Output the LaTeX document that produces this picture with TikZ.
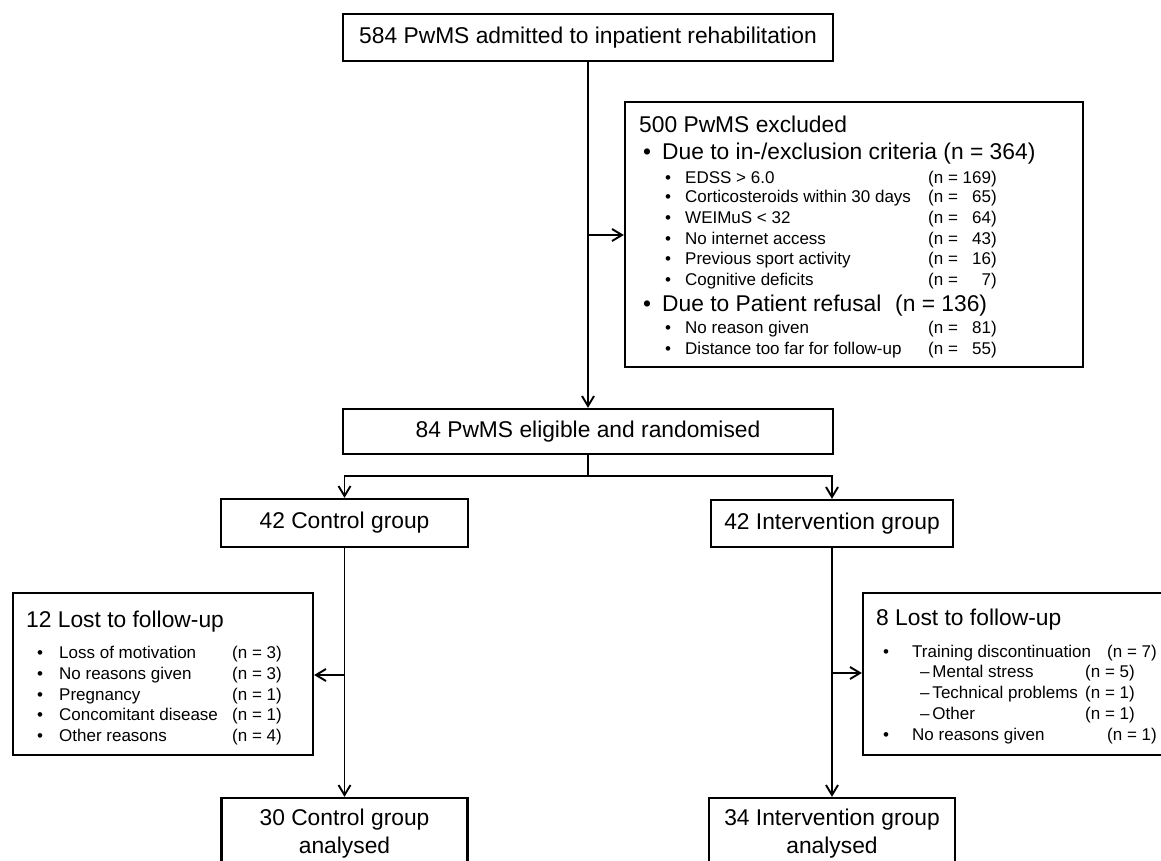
\documentclass[tikz,border=0pt]{standalone}
\usepackage{fontspec}
\setmainfont{Liberation Sans}
\usetikzlibrary{arrows.meta}
\begin{document}
\begin{tikzpicture}[x=1pt,y=-1pt,
  box/.style={draw, line width=2.3pt, inner sep=0pt},
  big/.style={font=\fontsize{22.8}{28}\selectfont},
  small/.style={font=\fontsize{17}{20}\selectfont},
  txt/.style={anchor=base west, inner sep=0pt},
  conn/.style={line width=1.9pt},
  arr/.style={conn, -{Straight Barb[length=10pt,width=12pt,line width=1.9pt]}}
]
\path[use as bounding box] (0,0) rectangle (1161,861);
\clip (0,0) rectangle (1161,861);

% boxes
\node[box,big,minimum width=490pt,minimum height=47pt] (top) at (588,37.5) {584 PwMS admitted to inpatient rehabilitation};
\node[box,minimum width=458pt,minimum height=265pt] (excl) at (854,234.5) {};
\node[box,big,minimum width=490pt,minimum height=45pt] (elig) at (588,431.5) {84 PwMS eligible and randomised};
\node[box,big,minimum width=247pt,minimum height=48pt] (ctrl) at (344.5,523) {42 Control group};
\node[box,big,minimum width=242pt,minimum height=47pt] (intv) at (832,523.5) {42 Intervention group};
\node[box,minimum width=300pt,minimum height=162pt] (lostL) at (163,674) {};
\node[box,minimum width=312pt,minimum height=162pt] (lostR) at (1019,674) {};
\node[box,big,align=center,minimum width=246pt,minimum height=72pt] (ctrlA) at (344.5,834) {30 Control group\\analysed};
\node[box,big,align=center,minimum width=246pt,minimum height=72pt] (intvA) at (832,834) {34 Intervention group\\analysed};

% connectors
\draw[arr] (top) -- (elig);
\coordinate (ex) at (588,235);
\draw[arr] (ex) -- (ex -| excl.west);
\coordinate (sp) at (588,476);
\draw[conn] (elig) -- (sp);
\draw[arr] (sp) -| (ctrl);
\draw[arr] (sp) -| (intv);
\draw[arr] (ctrl) -- (ctrlA);
\draw[arr] (intv) -- (intvA);
\coordinate (lb) at (344.5,675);
\draw[arr] (lb) -- (lb -| lostL.east);
\coordinate (rb) at (832,673);
\draw[arr] (rb) -- (rb -| lostR.west);

% exclusion box text
\node[txt,big] (exh) at (639,133) {500 PwMS excluded};
\node[txt,big] (exb1) at (643,160) {•};
\node[txt,big] (exa) at (662,160) {Due to in-/exclusion criteria (n = 364)};
\foreach \yy/\tt/\nn [count=\i] in {183/EDSS > 6.0/169,
    203/Corticosteroids within 30 days/\phantom{1}65,
    223/WEIMuS < 32/\phantom{1}64,
    244/No internet access/\phantom{1}43,
    264/Previous sport activity/\phantom{1}16,
    285/Cognitive deficits/\phantom{16}7}{
  \node[txt,small] (eab\i) at (665,\yy) {•};
  \node[txt,small] (eat\i) at (685,\yy) {\tt};
  \node[txt,small] (ean\i) at (928,\yy) {(n = \nn)};
}
\node[txt,big] (exb2) at (643,311) {•};
\node[txt,big] (exr) at (662,311) {Due to Patient refusal};
\node[txt,big] (exrn) at (895,311) {(n = 136)};
\foreach \yy/\tt/\nn [count=\i] in {333/No reason given/81,
    354/Distance too far for follow-up/55}{
  \node[txt,small] (erb\i) at (665,\yy) {•};
  \node[txt,small] (ert\i) at (685,\yy) {\tt};
  \node[txt,small] (ern\i) at (928,\yy) {(n = \phantom{1}\nn)};
}

% left lost box text
\node[txt,big] (llh) at (26,627) {12 Lost to follow-up};
\foreach \yy/\tt/\nn [count=\i] in {658/Loss of motivation/3,
    679/No reasons given/3,
    700/Pregnancy/1,
    720/Concomitant disease/1,
    741/Other reasons/4}{
  \node[txt,small] (llb\i) at (37,\yy) {•};
  \node[txt,small] (llt\i) at (59,\yy) {\tt};
  \node[txt,small] (lln\i) at (232,\yy) {(n = \nn)};
}

% right lost box text
\node[txt,big] (lrh) at (876,625) {8 Lost to follow-up};
\node[txt,small] (lrb1) at (883,657) {•};
\node[txt,small] (lrt1) at (912,657) {Training discontinuation};
\node[txt,small] (lrn1) at (1107,657) {(n = 7)};
\foreach \yy/\tt [count=\i] in {677/Mental stress, 698/Technical problems, 719/Other}{
  \node[txt,small] (lrs\i) at (920,\yy) {–\,\tt};
  \node[txt,small] (lrsn\i) at (1085,\yy) {(n = \ifnum\i=1 5\else 1\fi)};
}
\node[txt,small] (lrb2) at (883,740) {•};
\node[txt,small] (lrt2) at (912,740) {No reasons given};
\node[txt,small] (lrn2) at (1107,740) {(n = 1)};
\end{tikzpicture}
\end{document}
